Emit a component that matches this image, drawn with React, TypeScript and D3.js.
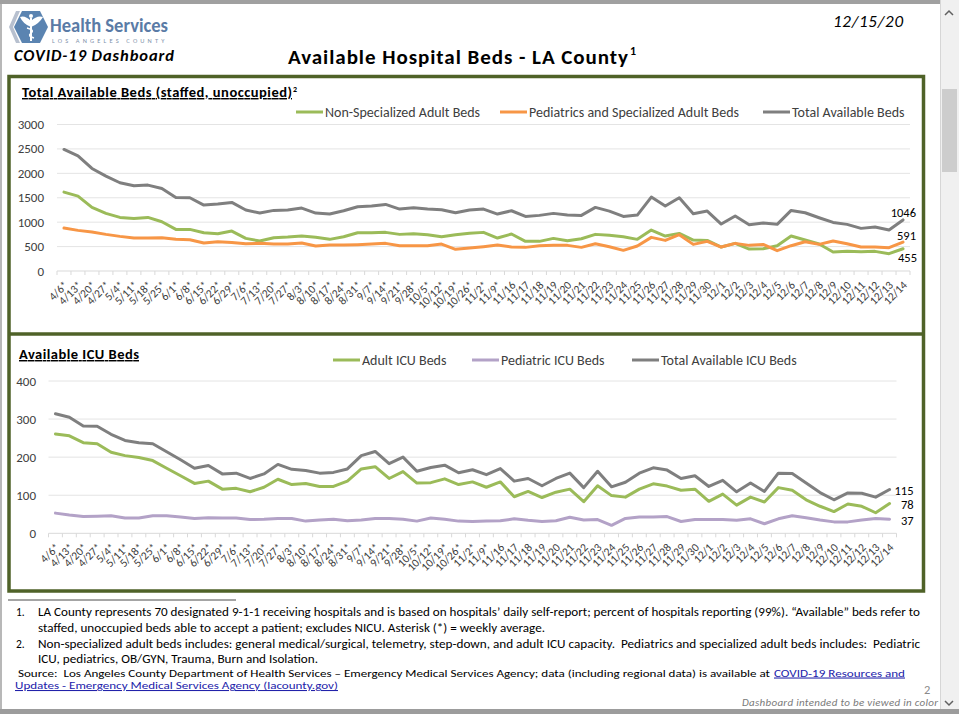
import React from "react";
import * as d3 from "d3";

const weeklyCats = ["4/6*","4/13*","4/20*","4/27*","5/4*","5/11*","5/18*","5/25*","6/1*","6/8*","6/15*","6/22*","6/29*","7/6*","7/13*","7/20*","7/27*","8/3*","8/10*","8/17*","8/24*","8/31*","9/7*","9/14*","9/21*","9/28*","10/5*","10/12*","10/19*","10/26*","11/2*","11/9*"];
const dailyCats = ["11/16","11/17","11/18","11/19","11/20","11/21","11/22","11/23","11/24","11/25","11/26","11/27","11/28","11/29","11/30","12/1","12/2","12/3","12/4","12/5","12/6","12/7","12/8","12/9","12/10","12/11","12/12","12/13","12/14"];
const categories = [...weeklyCats, ...dailyCats];

const nonSpecAdultBeds = [1616,1534,1302,1180,1098,1077,1098,1009,852,852,784,764,818,668,614,682,695,716,689,648,702,784,784,791,750,764,743,702,743,775,791,675,757,607,607,668,620,661,750,730,702,648,839,716,770,634,627,491,566,450,457,518,716,634,552,389,402,395,402,355,455];
const pedsSpecBeds = [880,832,798,750,709,675,675,682,648,641,573,600,586,559,566,552,552,573,511,532,532,539,552,566,518,518,518,552,443,470,498,532,491,484,518,525,525,484,559,498,423,511,689,627,743,545,607,491,566,525,545,416,518,600,545,614,559,491,491,477,591];
const totalBeds = [2489,2359,2100,1943,1807,1745,1759,1691,1507,1500,1350,1370,1404,1248,1186,1241,1248,1289,1186,1166,1234,1316,1330,1364,1268,1295,1268,1255,1193,1250,1268,1166,1234,1118,1139,1180,1145,1139,1302,1227,1118,1145,1514,1330,1500,1173,1227,961,1125,948,982,955,1241,1193,1091,995,955,873,900,839,1046];

const adultIcuBeds = [261,256,238,235,213,204,199,191,171,151,131,137,116,118,109,121,142,128,131,123,123,137,169,175,144,162,132,133,143,128,135,121,135,96,110,94,108,116,83,125,99,95,116,130,124,113,116,84,103,74,95,82,120,113,88,71,57,77,71,54,78];
const pedIcuBeds = [53,48,44,45,46,40,40,46,46,43,39,41,40,40,36,37,39,39,32,35,37,33,35,39,39,37,32,40,37,32,31,32,33,38,34,31,33,42,35,36,21,39,43,43,44,31,36,36,36,34,38,25,38,46,41,35,30,30,35,39,37];
const totalIcuBeds = [314,305,282,281,260,244,238,235,214,193,171,178,156,158,144,156,181,168,165,158,160,169,204,215,183,200,163,173,179,159,167,154,170,137,144,125,144,158,120,163,122,134,158,172,166,144,151,123,139,109,132,110,158,157,132,107,88,106,105,95,115];

const topTicks = [0,500,1000,1500,2000,2500,3000];
const icuTicks = [0,100,200,300,400];

const FONT = "Carlito, Lato, 'Open Sans', sans-serif";
const GREEN = "#9bbb59";
const ORANGE = "#f79646";
const GRAY = "#7f7f7f";
const PURPLE = "#b3a2c7";
const FRAME = "#4f6228";

type Series = { name: string; values: number[]; color: string };

function Chart(props: {
  x0: number; x1: number; yTop: number; yBottom: number; max: number; ticks: number[];
  labelX: number; series: Series[]; labelOffsets: { dx: number; dy: number }[];
}) {
  const { x0, x1, yTop, yBottom, max, ticks, labelX, series, labelOffsets } = props;
  const x = d3.scalePoint<string>().domain(categories).range([x0, x1]).padding(0.5);
  const y = d3.scaleLinear().domain([0, max]).range([yBottom, yTop]);
  const step = x.step();
  const line = d3.line<number>().x((_, i) => x(categories[i]) as number).y((v) => y(v));
  const boundaries = d3.range(categories.length + 1).map((k) => x0 + k * step);
  const last = categories[categories.length - 1];
  return (
    <g>
      {ticks.map((t) => (
        <g key={t}>
          {t !== 0 && <line x1={x0} x2={x1} y1={y(t)} y2={y(t)} stroke="#e4e4e4" strokeWidth={1} />}
          <text x={labelX} y={y(t)} dy="0.35em" textAnchor="end" fontSize={13} fill="#404040" fontFamily={FONT}>{t}</text>
        </g>
      ))}
      <line x1={x0} x2={x1} y1={yBottom} y2={yBottom} stroke="#d9d9d9" strokeWidth={1} />
      {boundaries.map((bx, k) => (
        <line key={k} x1={bx} x2={bx} y1={yBottom} y2={yBottom + 4} stroke="#d9d9d9" strokeWidth={1} />
      ))}
      {categories.map((c) => (
        <text key={c} transform={`translate(${(x(c) as number) + 2},${yBottom + 12}) rotate(-45)`} dy="0.35em" textAnchor="end" fontSize={11.5} fill="#404040" fontFamily={FONT}>{c}</text>
      ))}
      {series.map((s) => (
        <path key={s.name} d={line(s.values) || ""} fill="none" stroke={s.color} strokeWidth={3} strokeLinejoin="round" strokeLinecap="round" />
      ))}
      {series.map((s, i) => (
        <text key={s.name + "lbl"} x={(x(last) as number) + labelOffsets[i].dx} y={y(s.values[s.values.length - 1]) + labelOffsets[i].dy} dy="0.35em" textAnchor="end" fontSize={12.5} fill="#000" fontFamily={FONT}>
          {s.values[s.values.length - 1]}
        </text>
      ))}
    </g>
  );
}

function Legend(props: { items: { name: string; color: string; x: number }[]; y: number }) {
  return (
    <g>
      {props.items.map((it) => (
        <g key={it.name}>
          <line x1={it.x} x2={it.x + 27} y1={props.y} y2={props.y} stroke={it.color} strokeWidth={3} />
          <text x={it.x + 29} y={props.y} dy="0.35em" fontSize={14} fill="#404040" fontFamily={FONT}>{it.name}</text>
        </g>
      ))}
    </g>
  );
}

export default function App() {
  const topSeries: Series[] = [
    { name: "Non-Specialized Adult Beds", values: nonSpecAdultBeds, color: GREEN },
    { name: "Pediatrics and Specialized Adult Beds", values: pedsSpecBeds, color: ORANGE },
    { name: "Total Available Beds", values: totalBeds, color: GRAY },
  ];
  const icuSeries: Series[] = [
    { name: "Adult ICU Beds", values: adultIcuBeds, color: GREEN },
    { name: "Pediatric ICU Beds", values: pedIcuBeds, color: PURPLE },
    { name: "Total Available ICU Beds", values: totalIcuBeds, color: GRAY },
  ];
  const pre = { whiteSpace: "pre" } as React.CSSProperties;
  const fit = "spacingAndGlyphs";
  return (
    <svg width={959} height={714} style={{ position: "absolute", left: 0, top: 0, background: "#fff" }} fontFamily={FONT}>
      <rect x={0} y={0} width={959} height={714} fill="#fff" />
      {/* window chrome */}
      <rect x={0} y={0} width={940} height={4} fill="#a0a0a0" />
      <rect x={0} y={709} width={959} height={5} fill="#9c9c9c" />
      <line x1={1} x2={1} y1={4} y2={709} stroke="#a0a0a0" strokeWidth={1.5} />
      <rect x={940} y={0} width={19} height={709} fill="#f0f0f0" />
      <line x1={940.5} x2={940.5} y1={0} y2={709} stroke="#d6d6d6" />
      <rect x={942} y={89} width={15} height={83} fill="#cdcdcd" />
      <path d="M945,15 L949,11 L953,15" fill="none" stroke="#606060" strokeWidth={1.5} />
      <path d="M945,701 L949,705 L953,701" fill="none" stroke="#606060" strokeWidth={1.5} />

      {/* logo */}
      <path d="M16,11 L9,27 L16,43 L20,43 L13,27 L20,11 Z" fill="#b7c0cf" />
      <path d="M14,27 L22,11 L40,11 L48,27 L40,43 L22,43 Z" fill="#5b84b1" />
      <path d="M20,17 Q25,15 31,21 Q37,15 43,17 Q39,24 31,27 Q23,24 20,17 Z" fill="#fff" />
      <line x1={31} x2={31} y1={18} y2={41} stroke="#fff" strokeWidth={2} />
      <path d="M27,28 Q35,30 31,33 Q27,36 34,38" fill="none" stroke="#fff" strokeWidth={1.5} />
      <circle cx={31} cy={16} r={2} fill="#fff" />
      <text x={50} y={32} fontSize={19.5} fontWeight={700} fill="#5a7ba6" textLength={118} lengthAdjust="spacingAndGlyphs">Health Services</text>
      <text x={52} y={42.5} fontSize={6.5} fill="#8092aa" letterSpacing={2.6} textLength={115}>LOS ANGELES COUNTY</text>
      <text x={14} y={61} fontSize={16.5} fontWeight={700} fontStyle="italic" fill="#000" textLength={160}>COVID-19 Dashboard</text>
      <text x={833} y={27} fontSize={17} fontStyle="italic" fill="#000" textLength={70}>12/15/20</text>

      {/* title */}
      <text x={288} y={64} fontSize={21} fontWeight={600} fill="#000" textLength={340}>Available Hospital Beds - LA County</text>
      <text x={630} y={55} fontSize={12} fontWeight={600} fill="#000">1</text>

      {/* frames */}
      <rect x={9} y={76.5} width={914.5} height={514.5} fill="none" stroke={FRAME} strokeWidth={3.5} />
      <line x1={9} x2={923.5} y1={334} y2={334} stroke={FRAME} strokeWidth={3.5} />

      {/* top panel */}
      <text x={22} y={97} fontSize={14.5} fontWeight={700} fill="#000" textDecoration="underline" textLength={270}>Total Available Beds (staffed, unoccupied)</text>
      <text x={293} y={92} fontSize={8} fontWeight={700} fill="#000">2</text>
      <Legend y={112} items={[
        { name: topSeries[0].name, color: GREEN, x: 296 },
        { name: topSeries[1].name, color: ORANGE, x: 500 },
        { name: topSeries[2].name, color: GRAY, x: 763 },
      ]} />
      <Chart x0={57} x1={910} yTop={124.5} yBottom={271} max={3000} ticks={topTicks} labelX={44}
        series={topSeries} labelOffsets={[{ dx: 14, dy: 9 }, { dx: 13, dy: -7 }, { dx: 13, dy: -7 }]} />

      {/* ICU panel */}
      <text x={19} y={359} fontSize={14.5} fontWeight={700} fill="#000" textDecoration="underline" textLength={120}>Available ICU Beds</text>
      <Legend y={360} items={[
        { name: icuSeries[0].name, color: GREEN, x: 333 },
        { name: icuSeries[1].name, color: PURPLE, x: 472 },
        { name: icuSeries[2].name, color: GRAY, x: 632 },
      ]} />
      <Chart x0={48.5} x1={896.5} yTop={381} yBottom={533.3} max={400} ticks={icuTicks} labelX={36}
        series={icuSeries} labelOffsets={[{ dx: 24, dy: 1 }, { dx: 24, dy: 1 }, { dx: 24, dy: 1 }]} />

      {/* footnotes */}
      <line x1={8} x2={236} y1={600} y2={600} stroke="#4a4a4a" strokeWidth={1} />
      <g fontSize={11.5} fill="#000">
        <text x={16} y={616}>1.</text>
        <text x={38} y={616} textLength={882} lengthAdjust={fit} style={pre}>LA County represents 70 designated 9-1-1 receiving hospitals and is based on hospitals’ daily self-report; percent of hospitals reporting (99%). “Available” beds refer to</text>
        <text x={38} y={632} textLength={507} lengthAdjust={fit} style={pre}>staffed, unoccupied beds able to accept a patient; excludes NICU. Asterisk (*) = weekly average.</text>
        <text x={16} y={648}>2.</text>
        <text x={38} y={648} textLength={882} lengthAdjust={fit} style={pre}>Non-specialized adult beds includes: general medical/surgical, telemetry, step-down, and adult ICU capacity.  Pediatrics and specialized adult beds includes:  Pediatric</text>
        <text x={38} y={663} textLength={280} lengthAdjust={fit} style={pre}>ICU, pediatrics, OB/GYN, Trauma, Burn and Isolation.</text>
      </g>
      <g fontSize={10.5} fill="#000">
        <text x={18} y={676.5} textLength={752} lengthAdjust={fit} style={pre}>Source:  Los Angeles County Department of Health Services – Emergency Medical Services Agency; data (including regional data) is available at</text>
        <text x={774} y={676.5} textLength={131} lengthAdjust={fit} fill="#2222aa" textDecoration="underline" style={pre}>COVID-19 Resources and</text>
        <text x={15} y={689} textLength={323} lengthAdjust={fit} fill="#2222aa" textDecoration="underline" style={pre}>Updates - Emergency Medical Services Agency (lacounty.gov)</text>
      </g>
      <text x={924} y={694} fontSize={12.5} fill="#8a8a8a">2</text>
      <text x={742} y={706} fontSize={11} fontStyle="italic" fill="#7a7a7a" textLength={196}>Dashboard intended to be viewed in color</text>
    </svg>
  );
}
